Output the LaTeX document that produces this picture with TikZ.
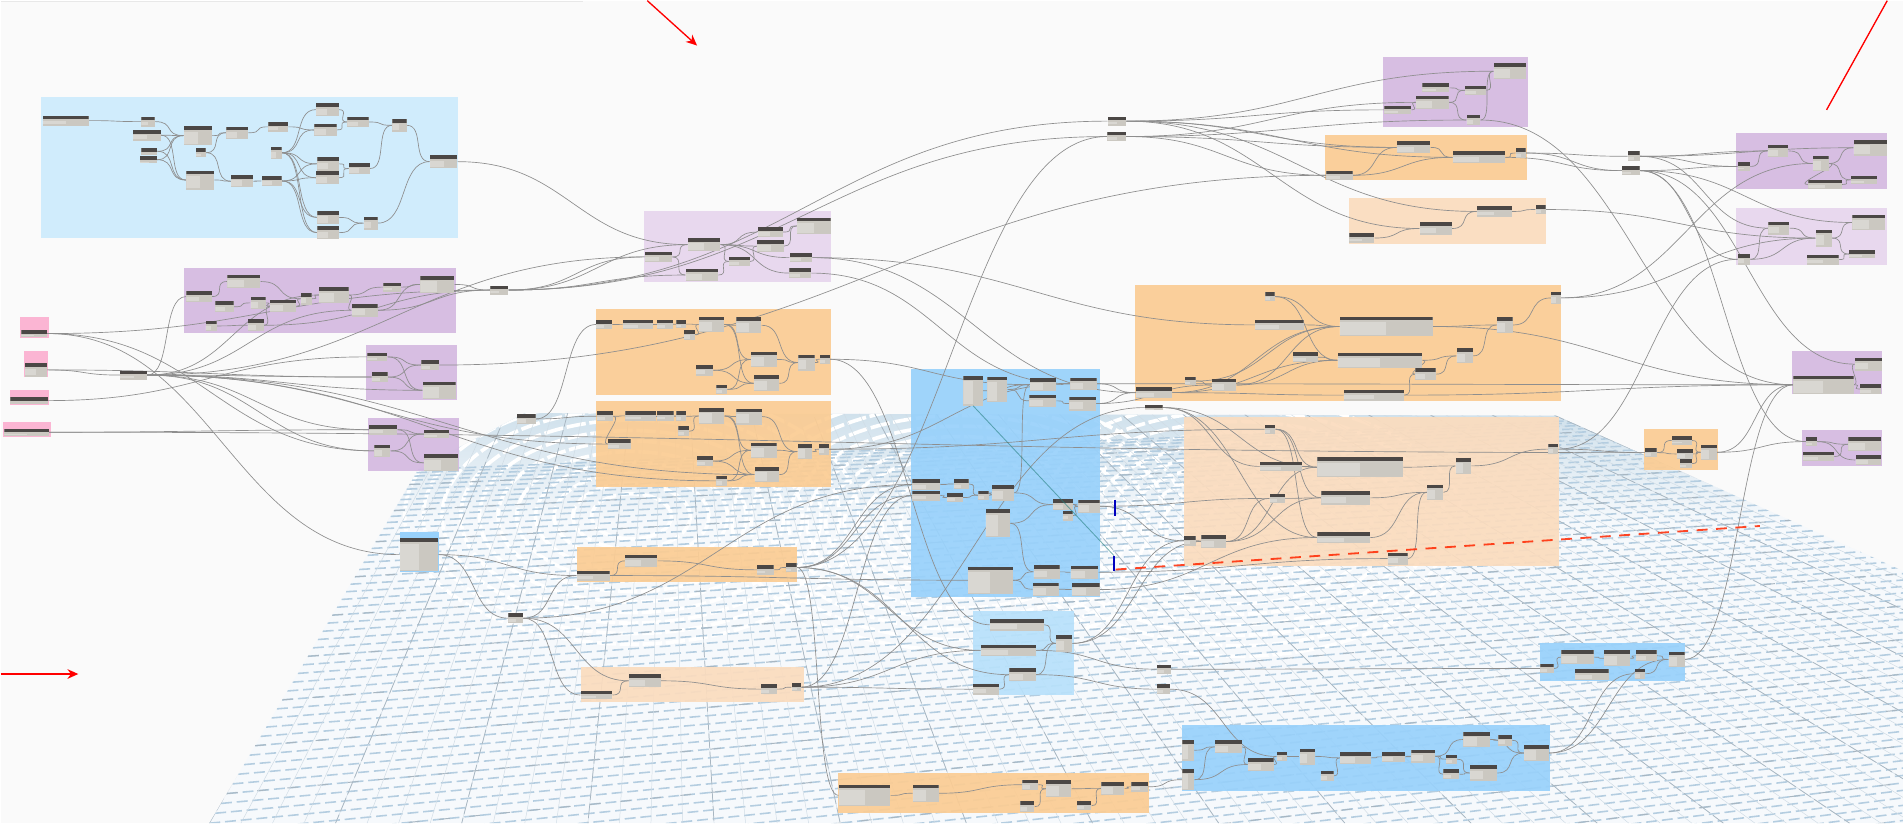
\documentclass[tikz,border=0pt]{standalone}
\usepackage{xcolor}
\usetikzlibrary{arrows.meta,fit,calc}
\pgfdeclarelayer{base}
\pgfdeclarelayer{wirelayer}
\pgfsetlayers{base,wirelayer,main}
\definecolor{bgpage}{HTML}{FAFAFA}
\definecolor{gridfill}{HTML}{F6F9FC}
\definecolor{gridband}{HTML}{D0E1EC}
\definecolor{gridrow}{HTML}{B4CDE0}
\definecolor{gridcol}{HTML}{D0DCE5}
\definecolor{gridmajor}{HTML}{A8B6C1}
\definecolor{skya}{HTML}{CDEBFD}
\definecolor{skyb}{HTML}{98D1FB}
\definecolor{skyc}{HTML}{B8E1FB}
\definecolor{purpa}{HTML}{D5B9E1}
\definecolor{purpb}{HTML}{E7D6EE}
\definecolor{oranga}{HTML}{FBCC93}
\definecolor{orangb}{HTML}{FBDCBE}
\definecolor{pinka}{HTML}{FCB0D0}
\definecolor{nodebody}{HTML}{CBC8C1}
\definecolor{nodehead}{HTML}{4B4745}
\definecolor{wirecol}{HTML}{8E8E8E}
\tikzset{
  dyn/.style={inner sep=0pt,fill=nodebody,
    path picture={
      \fill[white,opacity=.3] ([xshift=1pt,yshift=-4.5pt]path picture bounding box.north west) rectangle ([xshift=-40pt,yshift=1pt]path picture bounding box.south);
      \fill[white,opacity=.28] ([xshift=1pt,yshift=-4.5pt]path picture bounding box.north west) rectangle ([yshift=1pt]path picture bounding box.south);
      \fill[nodehead] (path picture bounding box.north west) rectangle ([yshift=-3pt]path picture bounding box.north east);}},
  panel/.style={inner sep=0pt,fill opacity=.92},
  wire/.style={draw=wirecol,line width=.55pt},
  redarrow/.style={draw=red,line width=1.1pt},
  bluetick/.style={draw=blue!75!black,line width=1.3pt}
}
\begin{document}
\begin{tikzpicture}[x=1pt,y=-1pt]
\begin{pgfonlayer}{base}
\useasboundingbox[fill=bgpage] (0,0) rectangle (1568,678);
\fill[black!9] (0,0) rectangle (480,1.5);
% floor
\begin{scope}
\clip (172,678) -- (345,385) -- (432,340) -- (1282,342) -- (1568,470) -- (1568,678) -- cycle;
\fill[gridfill] (0,300) rectangle (1568,678);
\shade[top color=gridband,bottom color=gridfill] (0,340) rectangle (1568,430);
\foreach \cx/\cy in {520/425,790/430,1020/435}
  \foreach \r in {30,44,...,170}
    \draw[white,line width=3pt,dash pattern=on 16pt off 3pt] (\cx,\cy) ellipse ({\r*1.1} and {\r*.62});
\foreach \i in {1,...,72}{
  \pgfmathsetmacro{\py}{385+293*pow(\i/48,1.35)}
  \pgfmathsetmacro{\px}{345-173*pow(\i/48,1.35)}
  \pgfmathsetmacro{\qy}{\py+(170-\py)*((1600-\px)/(5450-\px))}
  \draw[gridrow,line width=1.3pt,dash pattern=on 9pt off 4pt] (\px,\py) -- (1600,\qy);
}
\foreach \i in {5,10,...,70}{
  \pgfmathsetmacro{\py}{385+293*pow(\i/48,1.35)}
  \pgfmathsetmacro{\px}{345-173*pow(\i/48,1.35)}
  \pgfmathsetmacro{\qy}{\py+(170-\py)*((1600-\px)/(5450-\px))}
  \draw[gridmajor,line width=.8pt,dash pattern=on 9pt off 16pt] (\px,\py) -- (1600,\qy);
}
\foreach \x in {172,198,...,2060}
  \draw[gridcol,line width=.4pt] (550,20) -- (\x,678);
\foreach \x in {172,276,...,2060}
  \draw[gridmajor,line width=.6pt,dash pattern=on 12pt off 3pt] (550,20) -- (\x,678);
\end{scope}
% groups
\foreach \n/\xa/\ya/\xb/\yb/\c in {
  ga/33/79/377/196/skya, gb/151.5/220.3/375/273.6/purpa, gc/301.5/283.7/376/328.8/purpa,
  gd/303/344/378/388/purpa, ge/530.2/173.6/684.6/232.1/purpb, gf/490.3/254/684/325.2/oranga,
  gg/490.3/330.2/684/401/oranga, gh/474.7/450.5/656.7/478.8/oranga, gi/478.4/549.4/661.9/578.2/orangb,
  gj/750/303.5/906/491.7/skyb, gk/801.5/502.7/885/572.7/skyc, gl/934.7/234/1286/329.7/oranga,
  gm/975/343.3/1284.6/465.6/orangb, gn/1139.4/46.2/1258.6/103.9/purpa, go/1091.8/110.5/1258/147.8/oranga,
  gp/1111/162.7/1274/200.6/orangb, gq/1430.5/109.3/1555/155.5/purpa, gr/1430.5/170.9/1554.6/217.6/purpb,
  gs/1476.6/288.5/1551/324.2/purpa, gt/1484.6/353.8/1551/383.2/purpa, gu/1354.6/352.7/1415.6/386.5/oranga,
  gv/973.3/597/1276.7/651.3/skyb, gw/690/636.6/946.3/669.6/oranga, gx/1268.4/529.6/1388.5/560.9/skyb,
  pk1/16/261/39.7/278/pinka, pk2/19/288.4/39/310.4/pinka, pk3/7.4/320.8/39.7/333/pinka, pk4/2.2/347/41.2/359.8/pinka}
  \node[panel,fill=\c,fit={(\xa,\ya) (\xb,\yb)}] (\n) {};
% blue header of the table
\node[panel,fill=skyb,fill opacity=1,fit={(329,438) (361,471)}] (tbb) {};
\end{pgfonlayer}
% graph nodes
\foreach \n/\xa/\ya/\xb/\yb in {
  ba1/34.5/94.7/72.4/103, ba2/116/95.6/127/103.8, ba3/109/106.5/132/115.3, ba4/116/121.4/129/126.9,
  ba5/115/128.2/128.7/134, ba6/151/103.5/174/119, ba7/153/140/176/155.7, ba8/161/121.6/169/129,
  ba9/186/103.8/204/114, ba10/190/143.6/208/154, ba11/220.6/100/237/108, ba12/215/144.5/231.6/152.7,
  ba13/223/120.3/231.6/130.4, ba14/260/84.6/278.7/95, ba15/258.5/101.3/277/111.8, ba16/261/129/278.7/140,
  ba17/260/140.6/278.7/151.3, ba18/261/173.3/278.7/184, ba19/261/186/278.7/196.4, ba20/285.7/95.6/303.3/104.4,
  ba21/287/133.7/304.4/143, ba22/322.8/97.5/334.6/108, ba23/299.3/178/310.7/188.7, ba24/353.7/127.4/376.5/138,
  pa1/153/239.5/174/248.3, pa2/186.8/226/214/237, pa3/177/247.7/192/257, pa4/206/243.9/218.4/254.3,
  pa5/222/246.4/243.8/257, pa6/247.4/240.9/256.3/250.5, pa7/262.5/236.2/286.8/249, pa8/289.3/250/310.7/260.4,
  pa9/315.4/232.4/329.8/239.8, pa10/346/226.9/373.9/240.9, pa11/169/263.7/178/272.5, pa12/203.7/262.6/217/272.5,
  ja/403.7/234.8/418.4/242.3, jb/425.4/340.6/441/348.9, jc/418.5/504.9/430.6/513.1, mid/98.5/304.9/120.6/312.3,
  ni1/17/271.4/38.2/277.4, ni2/20.2/298.9/38.2/309.8, ni3/8/326.9/39/332.4, ni4/3/352.7/39.7/358.7,
  pb1/302.2/290/318.8/297.2, pb2/306/306.3/319/314.2, pb3/346.7/296.4/361.4/304.3, pb4/347.8/314/375/328.3,
  pc1/303.7/349.7/327/357.6, pc2/349/353.5/369.5/360.7, pc3/308/365.9/321.3/376.3, pc4/349/374/377/388,
  tb/329/443/360.8/470.2,
  ea1/566.4/195.6/593.3/206.6, ea2/531/206.8/553.5/215.6, ea3/564.5/221/591.4/231.3, ea4/600.2/211/617.5/218.9,
  ea5/624/186.5/644.7/195, ea6/623.6/197.2/645.5/207.4, ea7/656.5/179/684/192.3, ea8/650.2/208/668.9/215.6,
  ea9/650/220.6/668/228.5,
  fa1/490.9/263.2/504/270.6, fa2/512.8/262.9/537.8/270.8, fa3/541.1/262.9/554/270.8, fa4/557/263.2/564.8/270,
  fa5/563.4/271.4/572.7/279.6, fa6/575.5/260.4/596.4/273.3, fa7/606.5/261/627.1/274.1, fa8/618.3/289.3/639.8/302.2,
  fa9/573/300.2/587.3/309, fa10/620.8/308.8/641.7/322, fa11/590/316.4/598.8/324.4, fa12/657.6/291.7/670.8/304.9,
  fa13/675.2/291.7/683.5/299.4,
  fb1/491.4/338.4/504.9/346.7, fb2/515/338.4/540.3/346.1, fb3/541.1/338.4/554.6/346.1, fb4/557/338.4/565/346.7,
  fb5/558.5/350.8/567.5/359, fb6/575.5/335.7/596.6/348.9, fb7/606.3/336.2/627.4/349.4, fb8/618.6/364.3/639.5/376.9,
  fb9/573.6/375.5/587/383.5, fb10/621.4/384.3/641.7/397, fb11/590/391.4/598.8/400.2, fb12/656.8/365.4/668.9/378,
  fb13/674.7/365.4/682.9/374.1, fb14/500.5/361.5/519.2/369.5,
  ha1/474.7/469.7/502/478, ha2/514.8/456.5/541.3/467, ha3/623.6/465.3/637.2/473, ha4/647.5/463.6/656/470.8,
  ia1/478/568.6/504.1/576, ia2/517.7/555.4/544.2/565.8, ia3/626.9/563.6/639.8/571.3, ia4/652/562.3/660/569.4,
  ja1/793.4/309.3/809.6/333.7, ja2/813.2/309.8/829.8/331, ja3/848.5/311/870/322, ja4/881.6/310.7/903.3/320.8,
  ja5/848/324.7/870/335, ja6/880.9/326.3/903/337.9, ja7/751.5/394.4/774.3/403.2, ja8/751.5/403.8/774.3/412,
  ja9/785.7/394.4/797.8/402.4, ja10/780/405.7/793/413.4, ja11/805.9/403.8/814.3/411.5, ja12/817.3/399.4/835.3/412,
  ja13/811.8/419.4/832/442.2, ja14/867.3/410.9/883.8/419.7, ja15/888.2/411.2/905.9/422.2, ja16/875.4/420.3/883.5/428.5,
  ja17/797.4/466.4/834.2/489, ja18/851.5/465.3/872.8/476.3, ja19/882/465.6/904.8/476.6, ja20/850.7/479.6/872/490.6,
  ja21/883/479.9/905.9/490.9,
  ka1/815.3/509.6/860/519.2, ka2/808/530.7/853.2/540.3, ka3/870/523/883.2/536.5, ka4/831.4/550.2/853.2/560.9,
  ka5/801.5/563/823/572, jd/953/547.2/964.5/554.9, je/953/563.4/963.7/571.6,
  la1/1042.4/240.1/1050.1/247.8, la2/1033.9/263/1074/271.5, la3/1103.7/260.5/1180.3/276.7, la4/1233.3/261/1246.2/273.7,
  la5/1065.2/289.9/1085.8/297.8, la6/1102/290/1171.8/302.8, la7/1200/286.6/1213.5/299, la8/1166/303/1182.8/312.7,
  la9/998.4/311.6/1018.5/322, la10/976.2/310/985/317, la11/935.8/318.7/965.5/327.5, la12/1107.2/320.6/1156.7/329.7,
  la13/1278/240/1286/250, jf/943/333/957.8/337.8,
  ma1/1042/349.4/1050.7/357, ma2/1037.9/379.9/1073/387.9, ma3/1085.3/376.3/1156/392.8, ma4/1199.3/376.9/1212/390,
  ma5/1275.7/365.3/1283.8/374, ma6/1046/406.3/1058.5/414.2, ma7/1088.6/404.3/1128.7/415.3, ma8/1175.7/399/1189/411.5,
  ma9/1085.3/438.1/1128.7/446.9, ma10/1143.4/454.9/1159.6/464.8, ma11/975.4/441.2/985/449.1, ma12/989.7/440.6/1010/451,
  na1/1230.6/51.7/1257.5/64.6, na2/1171.8/68.2/1194/75.6, na3/1207/70/1224.5/77.8, na4/1166.6/78.3/1193.5/89.3,
  na5/1140.5/86.6/1162.7/93.4, na6/1208.3/94/1219.6/102.8,
  oa1/1150.9/116/1178.4/125.9, oa2/1197/124.2/1240/134.1, oa3/1248.7/121.5/1257/129.7, oa4/1092.7/140.1/1114.4/147.8,
  qa1/1216.8/169.5/1245.7/178, qa2/1265.2/168.4/1273.4/175.9, qa3/1169.6/182.7/1196.2/192.9, qa4/1111.6/191.8/1132.2/199.5,
  jg/912.7/95.6/927.6/103, jh/912.2/108/927.6/116, ji/1341.2/124.2/1350.8/132.4, jj/1336.5/136.5/1350.8/143.7,
  ra1/1527.2/114.8/1554.6/127.7, ra2/1456.5/118.7/1473.6/129.1, ra3/1493.6/127.7/1506.6/140.7, ra4/1431.6/133.2/1442/140.1,
  ra5/1490/147.5/1517.5/155.5, ra6/1525/144.2/1546.4/151.1,
  rb1/1526.3/176.4/1553.3/189.3, rb2/1457/182.1/1474.4/192.9, rb3/1496/188.7/1509.3/202.7, rb4/1431.8/208.8/1442/217.6,
  rb5/1488.7/209.3/1515/217.6, rb6/1523.6/205.5/1545/212.1,
  rc1/1528.3/294.2/1550.6/305, rc2/1477.7/309/1527.2/324.2, rc3/1532.7/316/1549.7/324.2,
  rd1/1488.2/359.9/1497/367, rd2/1523/359.9/1550/371.4, rd3/1485.4/371.7/1511.2/379.7, rd4/1529/374.5/1550/382.7,
  ua1/1355.5/368.7/1365/376.4, ua2/1377.4/359/1394/366, ua3/1381.6/369.5/1394.7/377.7, ua4/1384.3/378/1394/385.2,
  ua5/1401.3/365.9/1414.5/378.6,
  va1/974/609.3/983.6/626.3, va2/974/633.2/984/651, va3/1000.9/609.8/1023/620.3, va4/1028/624.4/1049.2/634.8,
  va5/1051.6/618.9/1060.4/627.1, va6/1070.7/616.4/1083.4/629.6, va7/1088/634.6/1098.7/643.3, va8/1104/619.2/1129.4/629,
  va9/1138.6/619.2/1157.4/627.4, va10/1162.8/617.5/1182.4/628, va11/1191.5/621.4/1200.4/629, va12/1189.2/633.5/1202.3/641.7,
  va13/1205.7/602.7/1227.6/615.3, va14/1234.5/605.2/1245.6/614, va15/1211/630.4/1233.4/642.8, va16/1255.6/613.4/1276/626.9,
  wa1/690.8/646.3/733.4/663.8, wa2/751.8/646.3/773.2/660.3, wa3/842.2/642.1/855.1/650.4, wa4/861.7/642.7/882.6/656.4,
  wa5/840.5/660/852/668.8, wa6/887.2/659.7/899/667.4, wa7/907.3/644/926.2/654.5, wa8/932/644/945.5/652,
  xa1/1286.3/535.6/1313/546.6, xa2/1321.7/535.6/1343/548.5, xa3/1347.8/535.6/1365/544.4, xa4/1374.7/536.5/1388/549.4,
  xa5/1269/546.6/1280/554.3, xa6/1297.8/551/1325.3/559.8, xa7/1346.7/550.5/1355.5/559}
  \node[dyn,fit={(\xa,\ya) (\xb,\yb)}] (\n) {};
% wires
\begin{pgfonlayer}{wirelayer}
\foreach \a/\b in {
  ba1/ba2,ba2/ba6,ba3/ba6,ba3/ba7,ba4/ba6,ba5/ba6,ba4/ba7,ba5/ba7,ba6/ba9,ba8/ba9,ba8/ba10,ba7/ba10,ba9/ba11,ba10/ba12,
  ba11/ba15,ba13/ba14,ba13/ba15,ba13/ba16,ba13/ba17,ba13/ba18,ba13/ba19,ba12/ba16,ba12/ba17,ba12/ba18,ba12/ba19,
  ba14/ba20,ba15/ba20,ba16/ba21,ba17/ba21,ba18/ba23,ba19/ba23,ba20/ba22,ba21/ba22,ba22/ba24,ba23/ba24,
  pa1/pa2,pa2/pa6,pa3/pa4,pa4/pa5,pa5/pa6,pa6/pa7,pa7/pa8,pa7/pa9,pa8/pa10,pa9/pa10,pa11/pa12,pa12/pa5,
  pa10/ja,pa8/ja,pa12/ja,pb1/pb3,pb1/pb4,pb2/pb3,pb2/pb4,pc1/pc2,pc1/pc4,pc3/pc2,pc3/pc4,
  ni2/mid,ni2/pb2,mid/pa1,mid/pa7,mid/pa8,mid/pb2,mid/pb4,mid/pc1,mid/pc3,mid/ea2,mid/fb14,mid/fb11,mid/fb10,
  ni1/ja,ni1/pc3,ni1/tb,ni3/pb1,ni4/pc1,ni4/ua1,
  ba24/ea1,ja/ea2,ja/ea3,ja/ea1,ja/jg,ja/jh,pb3/oa4,
  ea2/ea1,ea2/ea3,ea1/ea4,ea3/ea4,ea4/ea6,ea1/ea5,ea1/ea6,ea5/ea7,ea6/ea7,ea1/ea8,ea1/ea9,ea8/la2,ea9/ja4,ea8/la11,
  jb/fb1,jb/fa1,fa1/fa2,fa2/fa3,fa3/fa4,fa4/fa6,fa5/fa6,fa6/fa7,fa6/fa8,fa6/fa10,fa9/fa8,fa9/fa10,fa11/fa8,fa11/fa10,
  fa7/fa12,fa8/fa12,fa10/fa12,fa12/fa13,fa13/ka1,fa13/ja3,
  fb1/fb14,fb1/fb2,fb2/fb3,fb3/fb4,fb4/fb6,fb5/fb6,fb6/fb7,fb6/fb8,fb6/fb10,fb9/fb8,fb9/fb10,fb11/fb8,fb11/fb10,
  fb7/fb12,fb8/fb12,fb10/fb12,fb12/fb13,fb13/ma1,fb13/ja4,
  tb/ha1,tb/jc,jc/ha1,jc/ia2,jc/ia1,jc/ja7,ha1/ha2,ia1/ia2,ha2/ha3,ha3/ha4,ia2/ia3,ia3/ia4,ha1/ja17,
  ha4/ja7,ha4/ja8,ha4/ka2,ha4/ka4,ha4/jh,ha4/wa1,ia4/ka5,ia4/ka2,ia4/ja8,ia4/jf,
  ja7/ja9,ja8/ja10,ja10/ja11,ja9/ja11,ja11/ja12,ja12/ja14,ja12/ja3,ja13/ja14,ja13/ja18,ja14/ja15,ja16/ja15,ja2/ja3,ja1/ja3,
  ja3/ja4,ja5/ja6,ja2/ja5,ja17/ja18,ja17/ja20,ja18/ja19,ja20/ja21,ja4/la11,ja6/la11,ja6/la9,ja15/ma6,ja15/ma11,
  ja19/ma10,ja21/ma9,ka1/ka3,ka2/ka3,ka4/ka3,ka5/ka4,ka3/ma12,ka3/ma11,ka4/je,ka2/jd,
  jd/xa5,je/va5,wa1/wa2,wa2/wa3,wa3/wa4,wa5/wa4,wa4/wa7,wa6/wa7,wa7/wa8,wa8/va2,
  va1/va3,va2/va3,va2/va4,va3/va4,va4/va5,va5/va6,va6/va8,va7/va8,va8/va9,va9/va10,va10/va11,va10/va12,va10/va13,va11/va15,
  va12/va15,va13/va14,va14/va16,va15/va16,va13/va16,va16/xa7,va16/xa4,
  xa5/xa1,xa1/xa2,xa2/xa3,xa3/xa4,xa7/xa4,xa4/rc2,
  jg/na1,jg/na5,jg/oa1,jg/oa2,jg/qa3,jg/qa1,jh/na4,jh/oa4,jh/oa1,jh/na6,
  na5/na4,na4/na3,na4/na6,na2/na3,na3/na1,na6/na1,na6/rc2,
  oa4/oa1,oa4/oa2,oa1/oa2,oa2/oa3,oa3/ji,oa3/jj,oa2/jj,qa4/qa3,qa3/qa1,qa1/qa2,qa2/rb3,
  la1/la3,la1/la6,la2/la3,la5/la6,la3/la4,la6/la7,la8/la7,la7/la4,la4/la13,la11/la3,la11/la6,la9/la3,la9/la6,la10/la3,
  la10/la9,la6/la8,la12/la8,la11/la12,la13/ra3,la13/rb3,
  la3/rc2,jf/ma2,jf/ma3,jf/ma9,
  ma1/ma3,ma1/ma9,ma1/ma7,ma2/ma3,ma3/ma4,ma6/ma7,ma7/ma8,ma8/ma4,ma4/ma5,ma9/ma8,ma10/ma8,ma11/ma12,ma12/ma3,ma12/ma7,ma12/ma6,
  ma5/rb4,ma5/ua1,ji/ra4,ji/ra2,ji/ra1,ji/rb2,jj/ra4,jj/rb1,jj/rb4,jj/rc1,jj/rd1,
  ra4/ra2,ra2/ra3,ra3/ra1,ra3/ra6,ra5/ra6,ra3/ra5,rb4/rb2,rb2/rb3,rb4/rb3,rb3/rb1,rb3/rb6,rb5/rb6,
  rc2/rc1,rc2/rc3,rd1/rd2,rd1/rd4,rd3/rd2,
  ua1/ua2,ua1/ua3,ua2/ua5,ua3/ua5,ua4/ua5,ua5/rd1,ua5/rc2,ja4/rc2,la12/rc2}
  \draw[wire] let \p1=(\a.east),\p2=(\b.west),\n1={abs(\x2-\x1)*.45+6} in (\p1) .. controls +(\n1,0) and +(-\n1,0) .. (\p2);
\end{pgfonlayer}
% thin marks
\coordinate (tka) at (918.4,411.5);
\coordinate (tkb) at (918.4,424.4);
\coordinate (tkc) at (917.6,457.4);
\coordinate (tkd) at (917.6,469.7);
\coordinate (rda) at (919,468.9);
\coordinate (rdb) at (1450,433);
\draw[bluetick] (tka) -- (tkb);
\draw[bluetick] (tkc) -- (tkd);
\draw[teal!70!gray,opacity=.6,line width=.7pt] (ja1.south) -- (tkc);
\draw[red!70!orange,opacity=.85,line width=1.5pt,dash pattern=on 9pt off 7pt] (rda) -- (rdb);
% red arrows
\coordinate (aa) at (533,0);
\coordinate (ab) at (574,37);
\coordinate (ac) at (0,555);
\coordinate (ad) at (64,555);
\coordinate (ae) at (1555,0);
\coordinate (af) at (1505,90);
\draw[redarrow,-{Stealth[length=9pt,width=8pt]}] (aa) -- (ab);
\draw[redarrow,-{Stealth[length=9pt,width=8pt]}] (ac) -- (ad);
\draw[redarrow] (ae) -- (af);
\end{tikzpicture}
\end{document}
